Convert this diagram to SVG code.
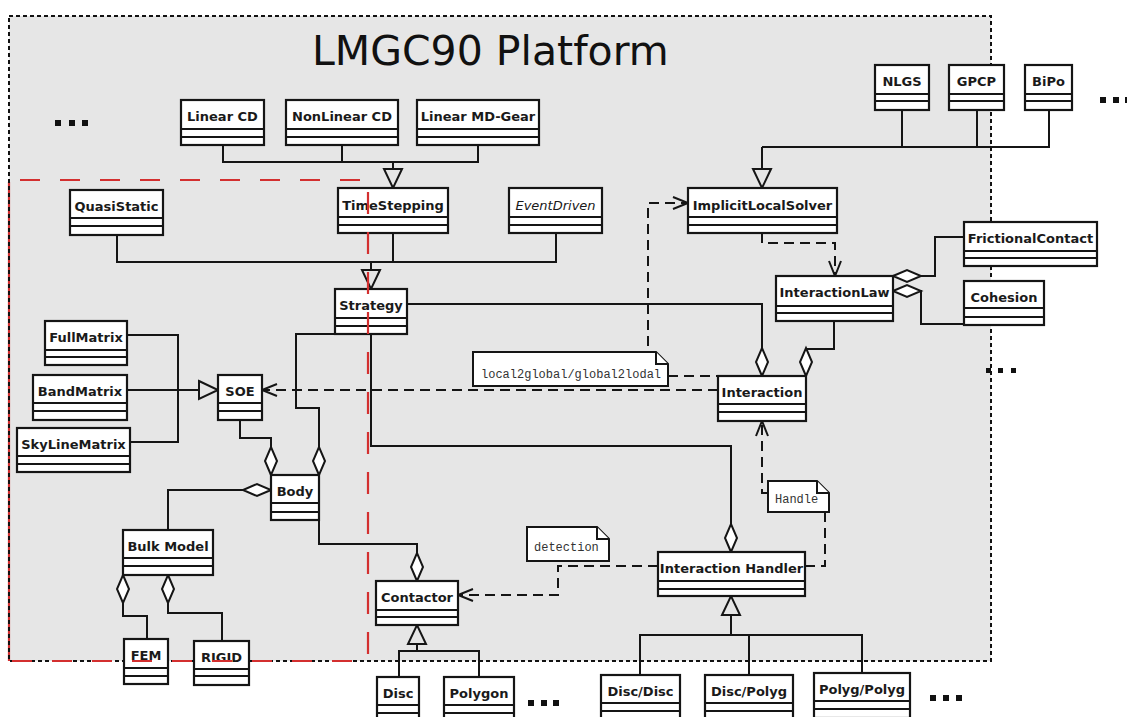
<svg xmlns="http://www.w3.org/2000/svg" width="1127" height="717" viewBox="0 0 1127 717">
<style>
.bg{fill:#e6e6e6}
.border{fill:none;stroke:#111;stroke-width:2;stroke-dasharray:4 3}
.box{fill:#fff;stroke:#151515;stroke-width:2.2}
.sep{fill:none;stroke:#151515;stroke-width:2.2}
.nm{font-family:"DejaVu Sans","Liberation Sans",sans-serif;font-size:13px;font-weight:bold;fill:#1a1a1a;text-anchor:middle}
.it{font-weight:normal;font-style:italic}
.note{fill:#fff;stroke:#151515;stroke-width:2}
.nt{font-family:"Liberation Mono","DejaVu Sans Mono",monospace;font-size:12px;fill:#333}
.ln{fill:none;stroke:#151515;stroke-width:2}
.dash{fill:none;stroke:#151515;stroke-width:2;stroke-dasharray:10 6}
.red{fill:none;stroke:#d32f2f;stroke-width:2.2}
.redd{fill:none;stroke:#d32f2f;stroke-width:2.2;stroke-dasharray:20 20}
.dot{fill:#111}
.title{font-family:"DejaVu Sans","Liberation Sans",sans-serif;font-size:41px;fill:#111}
</style>
<defs>
<marker id="tri" markerUnits="userSpaceOnUse" markerWidth="24" markerHeight="22" refX="19" refY="9" orient="auto" overflow="visible">
<path d="M0,0 L19,9 L0,18 Z" fill="#e6e6e6" stroke="#151515" stroke-width="2"/>
</marker>
<marker id="dia" markerUnits="userSpaceOnUse" markerWidth="30" markerHeight="14" refX="0" refY="6" orient="auto" overflow="visible">
<path d="M0,6 L14,0 L28,6 L14,12 Z" fill="#fff" stroke="#151515" stroke-width="2"/>
</marker>
<marker id="open" markerUnits="userSpaceOnUse" markerWidth="16" markerHeight="14" refX="15" refY="6" orient="auto" overflow="visible">
<path d="M0,0 L15,6 L0,12" fill="none" stroke="#151515" stroke-width="2"/>
</marker>
</defs>
<rect width="1127" height="717" fill="#fff"/>
<rect class="bg" x="9" y="16" width="982" height="645"/>
<path class="red" d="M9,182 V661"/>
<rect class="border" x="9" y="16" width="982" height="645"/>

<g id="connectors">
<path class="ln" d="M223,146 V162 H478 V145 M342,145 V162"/>
<path class="ln" d="M393,162 V188" marker-end="url(#tri)"/>
<path class="ln" d="M902,110 V147 M977,110 V147 M1049,110 V147 H762"/>
<path class="ln" d="M762,147 V188" marker-end="url(#tri)"/>
<path class="ln" d="M117,234 V262 H556 V233 M393,233 V262"/>
<path class="ln" d="M371,262 V289" marker-end="url(#tri)"/>
<path class="ln" d="M762,376 V304 H407" marker-start="url(#dia)"/>
<path class="ln" d="M806,376 V349 H834 V321" marker-start="url(#dia)"/>
<path class="ln" d="M893,276 H935 V237 H964" marker-start="url(#dia)"/>
<path class="ln" d="M893,291 H921 V324 H964" marker-start="url(#dia)"/>
<path class="ln" d="M127,335 H178 V442 H130"/>
<path class="ln" d="M127,390 H218" marker-end="url(#tri)"/>
<path class="ln" d="M271,475 V438 H240 V420" marker-start="url(#dia)"/>
<path class="ln" d="M319,475 V408 H296 V334 H335" marker-start="url(#dia)"/>
<path class="ln" d="M731,552 V446 H371 V334" marker-start="url(#dia)"/>
<path class="ln" d="M271,490 H168 V530" marker-start="url(#dia)"/>
<path class="ln" d="M123,575 V616 H147 V639" marker-start="url(#dia)"/>
<path class="ln" d="M168,575 V613 H222 V641" marker-start="url(#dia)"/>
<path class="ln" d="M417,581 V544 H319 V520" marker-start="url(#dia)"/>
<path class="ln" d="M399,677 V651 H479 V677"/>
<path class="ln" d="M417,651 V625" marker-end="url(#tri)"/>
<path class="ln" d="M640,675 V635 H862 V673 M749,675 V635"/>
<path class="ln" d="M731,635 V596" marker-end="url(#tri)"/>
<path class="dash" d="M718,390 H262" marker-end="url(#open)"/>
<path class="dash" d="M668,376 H718"/>
<path class="dash" d="M648,362 V203 H688" marker-end="url(#open)"/>
<path class="dash" d="M762,233 V243 H835 V276" marker-end="url(#open)"/>
<path class="dash" d="M658,566 H558 V595 H458" marker-end="url(#open)"/>
<path class="dash" d="M805,566 H825 V512"/>
<path class="dash" d="M768,493 H762 V421" marker-end="url(#open)"/>
</g>

<g id="n-linear-cd"><rect class="box" x="181" y="100" width="83" height="45"/><path class="sep" d="M181,129 H264 M181,137 H264"/><text class="nm" x="222.5" y="121">Linear CD</text></g>
<g id="n-nonlinear-cd"><rect class="box" x="286" y="100" width="112" height="45"/><path class="sep" d="M286,129 H398 M286,137 H398"/><text class="nm" x="342" y="121">NonLinear CD</text></g>
<g id="n-linear-md-gear"><rect class="box" x="417" y="100" width="122" height="45"/><path class="sep" d="M417,129 H539 M417,137 H539"/><text class="nm" x="478" y="121">Linear MD-Gear</text></g>
<g id="n-quasistatic"><rect class="box" x="70" y="190" width="93" height="45"/><path class="sep" d="M70,218 H163 M70,226 H163"/><text class="nm" x="116.5" y="211">QuasiStatic</text></g>
<g id="n-timestepping"><rect class="box" x="338" y="188" width="110" height="45"/><path class="sep" d="M338,217 H448 M338,225 H448"/><text class="nm" x="393" y="210">TimeStepping</text></g>
<g id="n-eventdriven"><rect class="box" x="509" y="188" width="93" height="45"/><path class="sep" d="M509,217 H602 M509,225 H602"/><text class="nm it" x="555.5" y="210">EventDriven</text></g>
<g id="n-implicitlocalsolver"><rect class="box" x="688" y="188" width="149" height="45"/><path class="sep" d="M688,217 H837 M688,225 H837"/><text class="nm" x="762.5" y="210">ImplicitLocalSolver</text></g>
<g id="n-nlgs"><rect class="box" x="875" y="65" width="54" height="45"/><path class="sep" d="M875,94 H929 M875,101 H929"/><text class="nm" x="902" y="86">NLGS</text></g>
<g id="n-gpcp"><rect class="box" x="949" y="65" width="55" height="45"/><path class="sep" d="M949,94 H1004 M949,101 H1004"/><text class="nm" x="976.5" y="86">GPCP</text></g>
<g id="n-bipo"><rect class="box" x="1025" y="65" width="47" height="45"/><path class="sep" d="M1025,94 H1072 M1025,101 H1072"/><text class="nm" x="1048.5" y="86">BiPo</text></g>
<g id="n-strategy"><rect class="box" x="335" y="289" width="72" height="45"/><path class="sep" d="M335,318 H407 M335,326 H407"/><text class="nm" x="371" y="310">Strategy</text></g>
<g id="n-interactionlaw"><rect class="box" x="776" y="276" width="117" height="45"/><path class="sep" d="M776,306 H893 M776,313 H893"/><text class="nm" x="834.5" y="297">InteractionLaw</text></g>
<g id="n-frictionalcontact"><rect class="box" x="964" y="222" width="133" height="44"/><path class="sep" d="M964,251 H1097 M964,258 H1097"/><text class="nm" x="1030.5" y="243">FrictionalContact</text></g>
<g id="n-cohesion"><rect class="box" x="964" y="281" width="80" height="44"/><path class="sep" d="M964,308 H1044 M964,317 H1044"/><text class="nm" x="1004" y="302">Cohesion</text></g>
<g id="n-interaction"><rect class="box" x="718" y="376" width="88" height="45"/><path class="sep" d="M718,404 H806 M718,412 H806"/><text class="nm" x="762" y="397">Interaction</text></g>
<g id="n-fullmatrix"><rect class="box" x="45" y="321" width="82" height="44"/><path class="sep" d="M45,350 H127 M45,357 H127"/><text class="nm" x="86" y="342">FullMatrix</text></g>
<g id="n-bandmatrix"><rect class="box" x="33" y="375" width="94" height="45"/><path class="sep" d="M33,403 H127 M33,411 H127"/><text class="nm" x="80" y="396">BandMatrix</text></g>
<g id="n-skylinematrix"><rect class="box" x="17" y="428" width="113" height="44"/><path class="sep" d="M17,456 H130 M17,464 H130"/><text class="nm" x="73.5" y="449">SkyLineMatrix</text></g>
<g id="n-soe"><rect class="box" x="218" y="375" width="44" height="45"/><path class="sep" d="M218,403 H262 M218,411 H262"/><text class="nm" x="240" y="396">SOE</text></g>
<g id="n-body"><rect class="box" x="271" y="475" width="48" height="45"/><path class="sep" d="M271,503 H319 M271,512 H319"/><text class="nm" x="295" y="496">Body</text></g>
<g id="n-bulkmodel"><rect class="box" x="123" y="530" width="90" height="45"/><path class="sep" d="M123,558 H213 M123,566 H213"/><text class="nm" x="168" y="551">Bulk Model</text></g>
<g id="n-fem"><rect class="box" x="124" y="639" width="44" height="45"/><path class="sep" d="M124,668 H168 M124,676 H168"/><text class="nm" x="146" y="660">FEM</text></g>
<g id="n-rigid"><rect class="box" x="194" y="641" width="55" height="44"/><path class="sep" d="M194,669 H249 M194,676 H249"/><text class="nm" x="221.5" y="662">RIGID</text></g>
<g id="n-contactor"><rect class="box" x="376" y="581" width="82" height="44"/><path class="sep" d="M376,610 H458 M376,617 H458"/><text class="nm" x="417" y="602">Contactor</text></g>
<g id="n-interactionhandler"><rect class="box" x="658" y="552" width="147" height="44"/><path class="sep" d="M658,581 H805 M658,589 H805"/><text class="nm" x="731.5" y="573">Interaction Handler</text></g>
<g id="n-disc"><rect class="box" x="377" y="677" width="42" height="45"/><path class="sep" d="M377,705 H419 M377,713 H419"/><text class="nm" x="398" y="698">Disc</text></g>
<g id="n-polygon"><rect class="box" x="444" y="677" width="70" height="45"/><path class="sep" d="M444,705 H514 M444,713 H514"/><text class="nm" x="479" y="698">Polygon</text></g>
<g id="n-discdisc"><rect class="box" x="601" y="675" width="79" height="45"/><path class="sep" d="M601,703 H680 M601,711 H680"/><text class="nm" x="640.5" y="696">Disc/Disc</text></g>
<g id="n-discpolyg"><rect class="box" x="705" y="675" width="88" height="45"/><path class="sep" d="M705,703 H793 M705,711 H793"/><text class="nm" x="749" y="696">Disc/Polyg</text></g>
<g id="n-polygpolyg"><rect class="box" x="814" y="673" width="96" height="45"/><path class="sep" d="M814,701 H910 M814,709 H910"/><text class="nm" x="862" y="694">Polyg/Polyg</text></g>

<g id="note-local2global"><path class="note" d="M473,352 H656 L668,364 V386 H473 Z"/><path class="note" d="M656,352 V364 H668" fill="none"/><text class="nt" x="481" y="378">local2global/global2lodal</text></g>
<g id="note-detection"><path class="note" d="M527,527 H597 L609,539 V561 H527 Z"/><path class="note" d="M597,527 V539 H609" fill="none"/><text class="nt" x="534" y="551">detection</text></g>
<g id="note-handle"><path class="note" d="M768,481 H817 L829,493 V512 H768 Z"/><path class="note" d="M817,481 V493 H829" fill="none"/><text class="nt" x="775" y="503">Handle</text></g>

<g id="red-boundary">
<path class="redd" d="M20,180 H368"/>
<path class="redd" d="M368,192 V661" style="stroke-dasharray:22 18"/>
<path class="redd" d="M352,661 H9"/>
</g>

<g id="ellipses">
<rect class="dot" x="55" y="120" width="6" height="6"/><rect class="dot" x="69" y="120" width="6" height="6"/><rect class="dot" x="82" y="120" width="6" height="6"/>
<rect class="dot" x="1100" y="97" width="6" height="6"/><rect class="dot" x="1113" y="97" width="6" height="6"/><rect class="dot" x="1125" y="97" width="6" height="6"/>
<rect class="dot" x="986" y="368" width="5" height="5"/><rect class="dot" x="998" y="368" width="5" height="5"/><rect class="dot" x="1011" y="368" width="5" height="5"/>
<rect class="dot" x="528" y="700" width="6" height="6"/><rect class="dot" x="541" y="700" width="6" height="6"/><rect class="dot" x="553" y="700" width="6" height="6"/>
<rect class="dot" x="930" y="695" width="6" height="6"/><rect class="dot" x="943" y="695" width="6" height="6"/><rect class="dot" x="956" y="695" width="6" height="6"/>
</g>
<text class="title" x="312" y="65">LMGC90 Platform</text>
</svg>
